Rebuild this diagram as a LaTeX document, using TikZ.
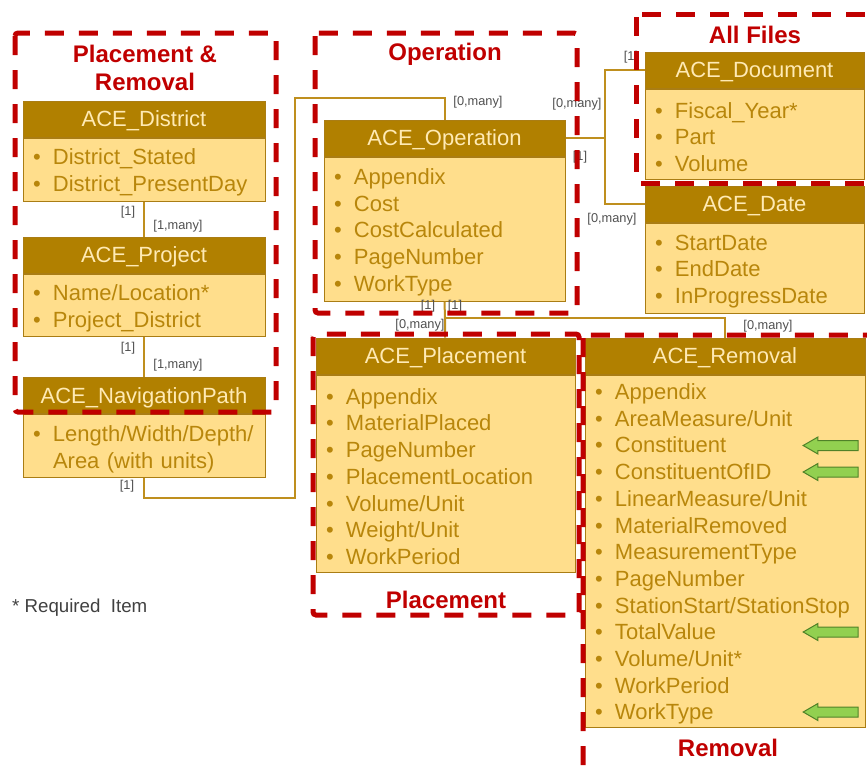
\documentclass[tikz,border=0pt]{standalone}
\usepackage{fontspec}
\setmainfont{Liberation Sans}
\usetikzlibrary{positioning,shapes.arrows}

\definecolor{headfill}{RGB}{177,128,0}
\definecolor{headtext}{RGB}{255,234,180}
\definecolor{bodyfill}{RGB}{255,222,140}
\definecolor{bodytext}{RGB}{184,134,11}
\definecolor{boxline}{RGB}{170,125,20}
\definecolor{linkcol}{RGB}{191,143,30}
\definecolor{groupred}{RGB}{192,0,0}
\definecolor{multtext}{RGB}{80,80,80}
\definecolor{arrowfill}{RGB}{146,208,80}
\definecolor{arrowline}{RGB}{80,130,40}

\newcommand{\itm}[1]{\rule{0pt}{22pt}\makebox[20pt][l]{\textbullet}#1}

\begin{document}
\begin{tikzpicture}[
            x=1pt, y=-1pt,
            classhead/.style={draw=boxline, fill=headfill, text=headtext, line width=1pt,
                    minimum height=36pt, inner sep=0pt, text height=15.8pt, text depth=0pt,
                    font=\fontsize{22}{26.7}\selectfont},
            classbody/.style={draw=boxline, fill=bodyfill, text=bodytext, line width=1pt,
                    align=left, inner xsep=10pt, inner ysep=2pt, font=\fontsize{22}{26.7}\selectfont},
            link/.style={draw=linkcol, line width=2pt},
            mult/.style={text=multtext, inner sep=0pt, font=\fontsize{12.8}{14}\selectfont},
            group/.style={draw=groupred, line width=5pt, dash pattern=on 19pt off 15pt, rounded corners=3pt},
            grouptitle/.style={text=groupred, align=center, font=\fontsize{24}{28}\selectfont\bfseries},
            greenarrow/.style={single arrow, draw=arrowline, fill=arrowfill, line width=1pt,
                    minimum height=55pt, minimum width=16pt, inner sep=4.5pt,
                    single arrow head extend=3.5pt, single arrow tip angle=60, shape border rotate=180}
        ]
        \useasboundingbox (0,0) rectangle (867,766);
        \clip (0,0) rectangle (867,766);

        % left column
        \node[classhead, minimum width=242pt] (districthead) at (144,119) {ACE\_District};
        \node[classbody, text width=222pt, minimum height=63pt, below=0pt of districthead] (districtbody)
            {\itm{District\_Stated}\\\itm{District\_PresentDay}};

        \node[classhead, minimum width=242pt] (projecthead) at (144,255) {ACE\_Project};
        \node[classbody, text width=222pt, minimum height=62pt, below=0pt of projecthead] (projectbody)
            {\itm{Name/Location*}\\\itm{Project\_District}};

        \node[classhead, minimum width=242pt] (navhead) at (144,395.5) {ACE\_NavigationPath};
        \node[classbody, text width=222pt, minimum height=63pt, below=0pt of navhead] (navbody)
            {\itm{Length/Width/Depth/}\\\hspace*{20pt}Area (with units)};

        % operation
        \node[classhead, minimum width=241pt] (ophead) at (444.5,138) {ACE\_Operation};
        \node[classbody, text width=221pt, minimum height=144pt, below=0pt of ophead] (opbody)
            {\itm{Appendix}\\\itm{Cost}\\\itm{CostCalculated}\\\itm{PageNumber}\\\itm{WorkType}};

        % all files
        \node[classhead, minimum width=219pt] (dochead) at (754.5,70) {ACE\_Document};
        \node[classbody, text width=199pt, minimum height=90pt, below=0pt of dochead] (docbody)
            {\itm{Fiscal\_Year*}\\\itm{Part}\\\itm{Volume}};

        \node[classhead, minimum width=219pt] (datehead) at (754.5,204) {ACE\_Date};
        \node[classbody, text width=199pt, minimum height=90pt, below=0pt of datehead] (datebody)
            {\itm{StartDate}\\\itm{EndDate}\\\itm{InProgressDate}};

        % placement and removal
        \node[classhead, minimum width=259pt] (plhead) at (445.5,356) {ACE\_Placement};
        \node[classbody, text width=239pt, minimum height=197pt, below=0pt of plhead] (plbody)
            {\itm{Appendix}\\\itm{MaterialPlaced}\\\itm{PageNumber}\\\itm{PlacementLocation}\\
             \itm{Volume/Unit}\\\itm{Weight/Unit}\\\itm{WorkPeriod}};

        \node[classhead, minimum width=280pt] (rmhead) at (725,356) {ACE\_Removal};
        \node[classbody, text width=260pt, minimum height=352pt, below=0pt of rmhead] (rmbody)
            {\itm{Appendix}\\\itm{AreaMeasure/Unit}\\\itm{Constituent}\\\itm{ConstituentOfID}\\
             \itm{LinearMeasure/Unit}\\\itm{MaterialRemoved}\\\itm{MeasurementType}\\\itm{PageNumber}\\
             \itm{StationStart/StationStop}\\\itm{TotalValue}\\\itm{Volume/Unit*}\\\itm{WorkPeriod}\\
             \itm{WorkType}};

        % connectors
        \coordinate (navbend) at (295,498);
        \coordinate (opbend) at (295,98);
        \coordinate (fork) at (605,138);
        \coordinate (opjoin) at (445,318);

        \draw[link] (districtbody.south) -- (projecthead.north);
        \draw[link] (projectbody.south) -- (navhead.north);
        \draw[link] (navbody.south) |- (navbend) -- (opbend) -| (ophead.north);
        \draw[link] (ophead.east) -- (fork);
        \draw[link] (dochead.west) -| (fork) |- (datehead.west);
        \draw[link] (opbody.south) -- (opjoin) -- (opjoin |- plhead.north);
        \draw[link] (opjoin) -| (rmhead.north);

        % multiplicities
        \node[mult] (m1) at (128,212) {[1]};
        \node[mult] (m2) at (178,226) {[1,many]};
        \node[mult] (m3) at (128,348) {[1]};
        \node[mult] (m4) at (178,365) {[1,many]};
        \node[mult] (m5) at (127,486) {[1]};
        \node[mult] (m6) at (478,102) {[0,many]};
        \node[mult] (m7) at (577,104) {[0,many]};
        \node[mult] (m8) at (580,157) {[1]};
        \node[mult] (m9) at (631,57) {[1]};
        \node[mult] (m10) at (612,219) {[0,many]};
        \node[mult] (m11) at (428,306) {[1]};
        \node[mult] (m12) at (455,306) {[1]};
        \node[mult] (m13) at (420,325) {[0,many]};
        \node[mult] (m14) at (768,326) {[0,many]};

        % green markers
        \foreach \ypos/\name in {445.5/arrA, 472/arrB, 632/arrC, 712/arrD}
            \node[greenarrow] (\name) at (835,\ypos) {};

        % groups
        \draw[group] (15,33) rectangle (276,412);
        \draw[group] (315,33) rectangle (577,313);
        \draw[group] (636,14) rectangle (874,183);
        \draw[group] (313,334) rectangle (579,615);
        \draw[group] (583,335) rectangle (874,775);

        \node[grouptitle] (prtitle) at (145,68) {Placement \&\\Removal};
        \node[grouptitle] (optitle) at (445,54) {Operation};
        \node[grouptitle] (aftitle) at (755,35) {All Files};
        \node[grouptitle] (pltitle) at (446,600) {Placement};
        \node[grouptitle] (rmtitle) at (728,748) {Removal};

        \node[anchor=west, text=black!75, inner sep=0pt, font=\fontsize{18.7}{22}\selectfont] (note) at (12,608) {* Required\ \ Item};
    \end{tikzpicture}
\end{document}
